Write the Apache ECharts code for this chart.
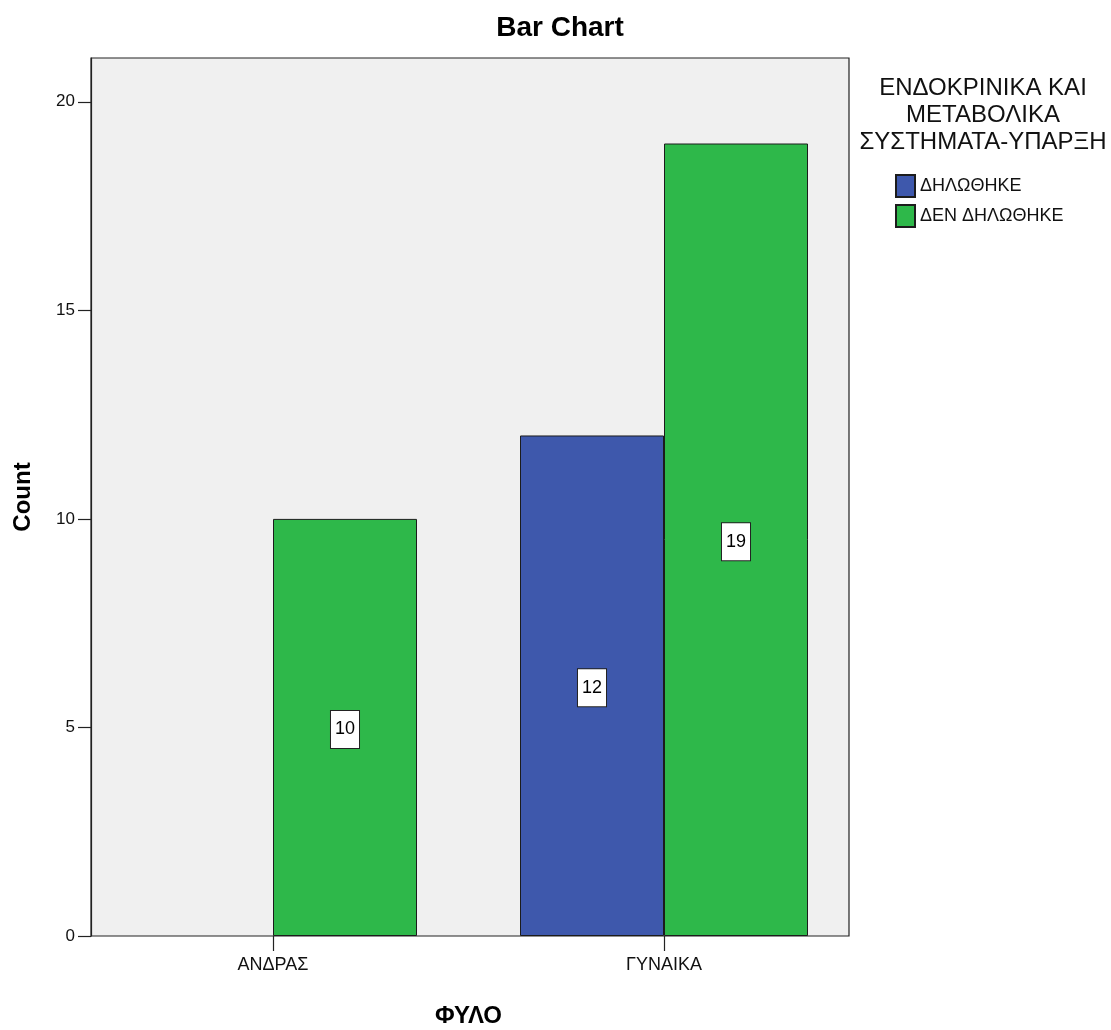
<!DOCTYPE html>
<html>
<head>
<meta charset="utf-8">
<title>Bar Chart</title>
<script src="https://cdn.jsdelivr.net/npm/echarts@6/dist/echarts.min.js"></script>
<style>
  html, body { margin: 0; padding: 0; background: #ffffff; }
  #chart { width: 1111px; height: 1030px; }
</style>
</head>
<body>
<div id="chart"></div>
<script>
// Categories on the x axis (sex)
const categories = ['ΑΝΔΡΑΣ', 'ΓΥΝΑΙΚΑ'];
// Counts per group
const declaredCounts = [0, 12];      // ΔΗΛΩΘΗΚΕ
const notDeclaredCounts = [10, 19];  // ΔΕΝ ΔΗΛΩΘΗΚΕ
// Y axis tick values
const countTicks = [0, 5, 10, 15, 20];

const seriesNames = ['ΔΗΛΩΘΗΚΕ', 'ΔΕΝ ΔΗΛΩΘΗΚΕ'];
const legendTitle = 'ΕΝΔΟΚΡΙΝΙΚΑ ΚΑΙ\nΜΕΤΑΒΟΛΙΚΑ\nΣΥΣΤΗΜΑΤΑ-ΥΠΑΡΞΗ';

const FONT = "'Liberation Sans', Arial, Helvetica, sans-serif";
const Y_MAX = 21.05;

// Empty groups get no outline and no value box
function toBarData(values) {
  return values.map(v => (v > 0
    ? { value: v, label: { show: true } }
    : { value: v, label: { show: false }, itemStyle: { borderColor: 'transparent' } }));
}

const barLabel = {
  show: true,
  position: 'inside',
  offset: [0, 2],
  fontFamily: FONT,
  fontSize: 18,
  lineHeight: 20,
  color: '#000',
  backgroundColor: '#ffffff',
  borderColor: '#222',
  borderWidth: 1,
  padding: [9, 4, 8, 4]
};

const chart = echarts.init(document.getElementById('chart'), null, { renderer: 'canvas' });

chart.setOption({
  animation: false,
  backgroundColor: '#ffffff',
  textStyle: { fontFamily: FONT },
  title: [
    {
      text: 'Bar Chart',
      left: 560,
      top: 14,
      textAlign: 'center',
      padding: 0,
      textStyle: { fontFamily: FONT, fontSize: 28, fontWeight: 'bold', color: '#000' }
    },
    {
      text: legendTitle,
      left: 983,
      top: 75,
      textAlign: 'center',
      padding: 0,
      textStyle: { fontFamily: FONT, fontSize: 24, fontWeight: 'normal', lineHeight: 27, color: '#111' }
    }
  ],
  legend: {
    orient: 'vertical',
    left: 895,
    top: 174,
    padding: 0,
    itemWidth: 19,
    itemHeight: 22,
    itemGap: 6,
    icon: 'rect',
    selectedMode: false,
    textStyle: { fontFamily: FONT, fontSize: 18, color: '#111' },
    data: seriesNames
  },
  grid: [
    // framed plot area carrying the count axis
    {
      left: 91, top: 58, right: 262, bottom: 94,
      show: true,
      backgroundColor: '#f0f0f0',
      borderColor: '#222',
      borderWidth: 1.2,
      containLabel: false,
      outerBoundsMode: 'none'
    },
    // bar layout area for the category axis
    {
      left: 77.5, top: 58, right: 251.5, bottom: 94,
      show: false,
      containLabel: false,
      outerBoundsMode: 'none'
    }
  ],
  xAxis: [
    { gridIndex: 0, type: 'category', data: categories, show: false },
    {
      gridIndex: 1,
      type: 'category',
      data: categories,
      name: 'ΦΥΛΟ',
      nameLocation: 'middle',
      nameGap: 68,
      nameTextStyle: { fontFamily: FONT, fontSize: 24, fontWeight: 'bold', color: '#000' },
      axisLine: { show: false },
      axisTick: { show: true, alignWithLabel: true, length: 15, lineStyle: { color: '#222', width: 1.2 } },
      axisLabel: { fontFamily: FONT, fontSize: 18, color: '#111', margin: 20 },
      splitLine: { show: false }
    }
  ],
  yAxis: [
    {
      gridIndex: 0,
      type: 'value',
      min: 0,
      max: Y_MAX,
      interval: 5,
      name: 'Count',
      nameLocation: 'middle',
      nameGap: 56,
      nameRotate: 90,
      nameTextStyle: { fontFamily: FONT, fontSize: 24, fontWeight: 'bold', color: '#000' },
      axisLine: { show: true, lineStyle: { color: '#222', width: 1.2 } },
      axisTick: { show: true, length: 13, customValues: countTicks, lineStyle: { color: '#222', width: 1.2 } },
      axisLabel: { fontFamily: FONT, fontSize: 17, color: '#111', margin: 16, customValues: countTicks },
      splitLine: { show: false }
    },
    { gridIndex: 1, type: 'value', min: 0, max: Y_MAX, show: false, splitLine: { show: false } }
  ],
  series: [
    {
      name: seriesNames[0],
      type: 'bar',
      xAxisIndex: 1,
      yAxisIndex: 1,
      barWidth: 144,
      barGap: '0%',
      data: toBarData(declaredCounts),
      itemStyle: { color: '#3e58ac', borderColor: '#1c1c1c', borderWidth: 1 },
      label: barLabel
    },
    {
      name: seriesNames[1],
      type: 'bar',
      xAxisIndex: 1,
      yAxisIndex: 1,
      barWidth: 144,
      barGap: '0%',
      data: toBarData(notDeclaredCounts),
      itemStyle: { color: '#2eb84a', borderColor: '#1c1c1c', borderWidth: 1 },
      label: barLabel
    }
  ]
});
</script>
</body>
</html>
